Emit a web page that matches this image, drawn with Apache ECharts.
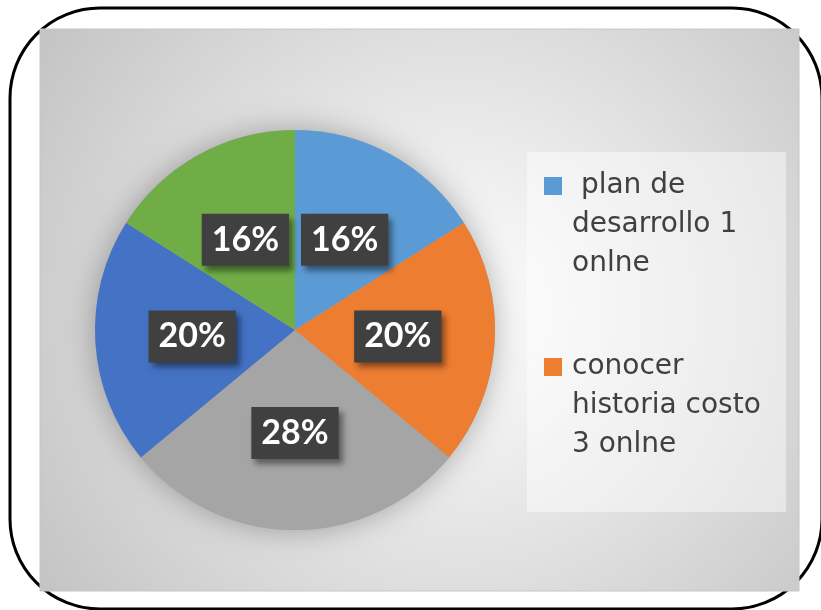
<!DOCTYPE html>
<html>
<head>
<meta charset="utf-8">
<title>pie</title>
<script src="https://cdn.jsdelivr.net/npm/echarts@6/dist/echarts.min.js"></script>
<style>
  html, body { margin: 0; padding: 0; background: #fff; }
  #chart { width: 821px; height: 610px; }
</style>
</head>
<body>
<div id="chart"></div>
<script>
// data
var categories = [
  'plan de desarrollo 1 onlne',
  'conocer historia costo 3 onlne',
  'opción 3',
  'opción 4',
  'opción 5'
]
var values = [16, 20, 28, 20, 16]
var colors = ['#5B9BD5', '#ED7D31', '#A5A5A5', '#4472C4', '#70AD47']
// legend text as it wraps in the picture (only two entries are visible)
var legendNames = [categories[0], categories[1]]
var legendLines = [
  [' plan de', 'desarrollo 1', 'onlne'],
  ['conocer', 'historia costo', '3 onlne']
]

var chart = echarts.init(document.getElementById('chart'))

var pieData = categories.map(function (name, i) {
  return { name: name, value: values[i], itemStyle: { color: colors[i] } }
})

var legendRich = {
  t: { fontSize: 28, color: '#404040', fontFamily: 'DejaVu Sans', lineHeight: 39 },
  gap: { width: 10, height: 18, lineHeight: 39 },
  ind: { width: 28, height: 18, lineHeight: 39 }
}
legendNames.forEach(function (n, i) {
  legendRich['sq' + i] = { width: 18, height: 18, backgroundColor: colors[i], lineHeight: 39 }
})

chart.setOption({
  backgroundColor: '#ffffff',
  graphic: [
    {
      // outer rounded frame
      type: 'rect',
      z: 0,
      shape: { x: 10, y: 8, width: 812, height: 601, r: 90 },
      style: { fill: '#ffffff', stroke: '#000000', lineWidth: 3 }
    },
    {
      // gray plot panel
      type: 'rect',
      z: 1,
      shape: { x: 40, y: 29, width: 759, height: 562 },
      style: {
        fill: {
          type: 'radial', x: 0.55, y: 0.5, r: 0.9,
          colorStops: [
            { offset: 0, color: '#ffffff' },
            { offset: 1, color: '#c3c3c3' }
          ]
        },
        stroke: '#c6c6c6',
        lineWidth: 1
      }
    },
    {
      // legend box
      type: 'rect',
      z: 2,
      shape: { x: 527, y: 152, width: 259, height: 360 },
      style: { fill: 'rgba(255,255,255,0.45)' }
    }
  ],
  legend: {
    data: legendNames,
    orient: 'vertical',
    left: 539,
    top: 172,
    padding: 0,
    itemGap: 75,
    itemWidth: 0,
    itemHeight: 0,
    icon: 'none',
    selectedMode: false,
    z: 5,
    formatter: function (name) {
      var i = legendNames.indexOf(name)
      var lines = legendLines[i]
      var out = ['{sq' + i + '|}{gap|}{t|' + lines[0] + '}']
      for (var k = 1; k < lines.length; k++) {
        out.push('{ind|}{t|' + lines[k] + '}')
      }
      return out.join('\n')
    },
    textStyle: { rich: legendRich }
  },
  series: [
    {
      // soft halo under the pie
      name: 'sombra',
      type: 'pie',
      silent: true,
      z: 3,
      center: [295, 330],
      radius: 200,
      label: { show: false },
      labelLine: { show: false },
      itemStyle: {
        color: '#a5a5a5',
        shadowBlur: 30,
        shadowColor: 'rgba(0,0,0,0.3)'
      },
      data: [{ name: '', value: 1 }]
    },
    {
      type: 'pie',
      z: 4,
      center: [295, 330],
      radius: 200,
      startAngle: 90,
      clockwise: true,
      silent: true,
      itemStyle: { borderWidth: 0 },
      label: {
        show: true,
        position: 'inside',
        formatter: '{d}%',
        color: '#ffffff',
        fontFamily: 'Lato',
        fontWeight: 'bold',
        fontSize: 34,
        lineHeight: 36,
        backgroundColor: '#404040',
        padding: [8, 10],
        shadowColor: 'rgba(0,0,0,0.45)',
        shadowBlur: 6,
        shadowOffsetX: 4,
        shadowOffsetY: 5
      },
      labelLine: { show: false },
      data: pieData
    }
  ]
})
</script>
</body>
</html>
